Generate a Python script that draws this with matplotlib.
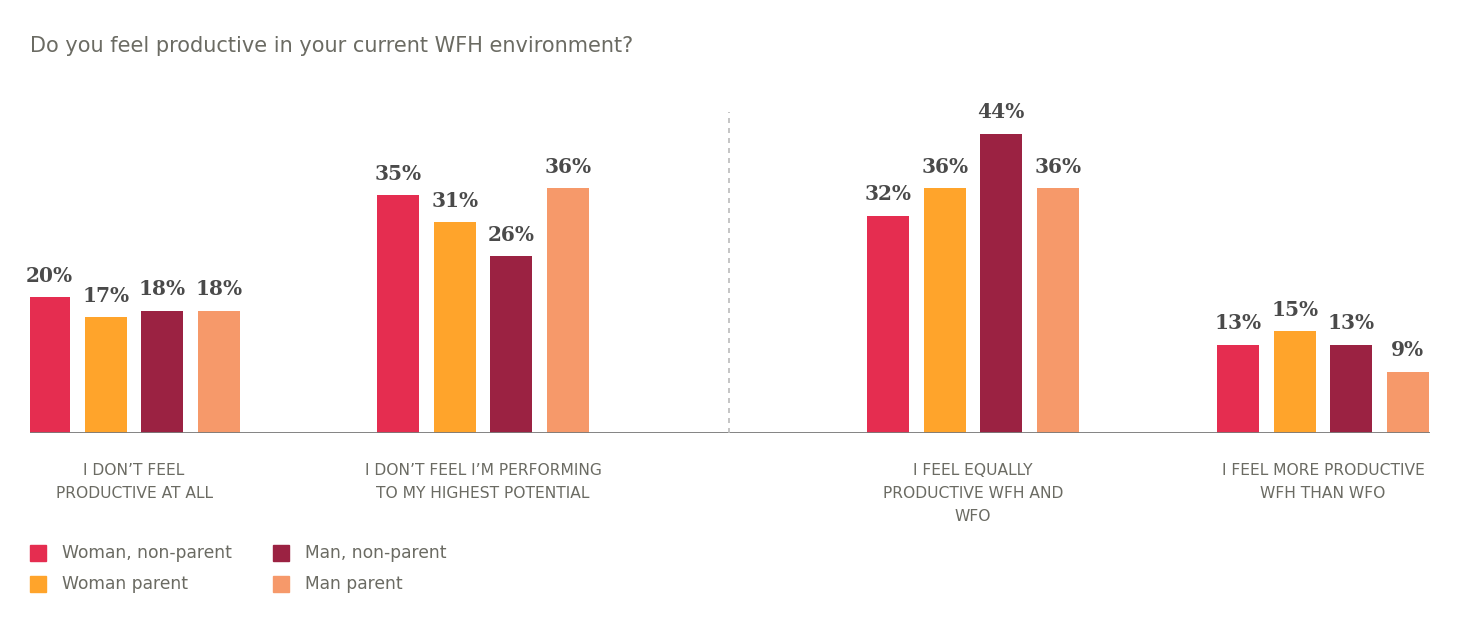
import matplotlib.pyplot as plt
from matplotlib.patches import Rectangle

# dados
categories = ["I DON\u2019T FEEL\nPRODUCTIVE AT ALL",
              "I DON\u2019T FEEL I\u2019M PERFORMING\nTO MY HIGHEST POTENTIAL",
              "I FEEL EQUALLY\nPRODUCTIVE WFH AND\nWFO",
              "I FEEL MORE PRODUCTIVE\nWFH THAN WFO"]
series = ["Woman, non-parent", "Woman parent", "Man, non-parent", "Man parent"]
woman_nonparent = [20, 35, 32, 13]
woman_parent = [17, 31, 36, 15]
man_nonparent = [18, 26, 44, 13]
man_parent = [18, 36, 36, 9]
values = [woman_nonparent, woman_parent, man_nonparent, man_parent]
colors = ["#E52D50", "#FFA42B", "#9B2242", "#F6996A"]

W, H = 1458, 625
fig = plt.figure(figsize=(W / 100, H / 100), dpi=100)

# eixo em pixels horizontais
x0, x1 = 30, 1430
y_base, y_top = 433, 100
ax = fig.add_axes([x0 / W, 1 - y_base / H, (x1 - x0) / W, (y_base - y_top) / H])
ax.set_xlim(x0, x1)
ax.set_ylim(0, 49)

centers = [134, 483, 973, 1323]
step = 56.5
width = 42
txtgray = "#6b6b63"

for s in range(4):
    for g in range(4):
        xc = centers[g] + (s - 1.5) * step
        v = values[s][g]
        ax.bar(xc, v, width=width, color=colors[s], linewidth=0)
        ax.text(xc, v + 1.7, f"{v}%", ha="center", va="bottom",
                family="DejaVu Serif", fontweight="bold", fontsize=14.5,
                color="#4a4a4a")

ax.axhline(0, color="#7a7a7a", lw=1.3)
ax.axvline(729, ymin=0, ymax=(433 - 112) / (433 - 100), color="#bbbbbb",
           lw=1.2, ls=(0, (3, 3)))

for sp in ax.spines.values():
    sp.set_visible(False)
ax.set_xticks([])
ax.set_yticks([])

for g in range(4):
    fig.text(centers[g] / W, 1 - 463 / H, categories[g], ha="center", va="top",
             fontsize=11.2, color=txtgray, linespacing=1.65)

fig.text(30 / W, 1 - 46 / H, "Do you feel productive in your current WFH environment?",
         ha="left", va="center", fontsize=15, color=txtgray)

# legenda manual
leg = [(30, 553), (30, 584), (273, 553), (273, 584)]
for s in range(4):
    lx, ly = leg[s]
    fig.patches.append(Rectangle((lx / W, 1 - (ly + 8) / H), 16 / W, 16 / H,
                                 transform=fig.transFigure, color=colors[s]))
    fig.text((lx + 32) / W, 1 - ly / H, series[s], ha="left", va="center",
             fontsize=12.3, color=txtgray)

fig.savefig("out.png", dpi=100)
